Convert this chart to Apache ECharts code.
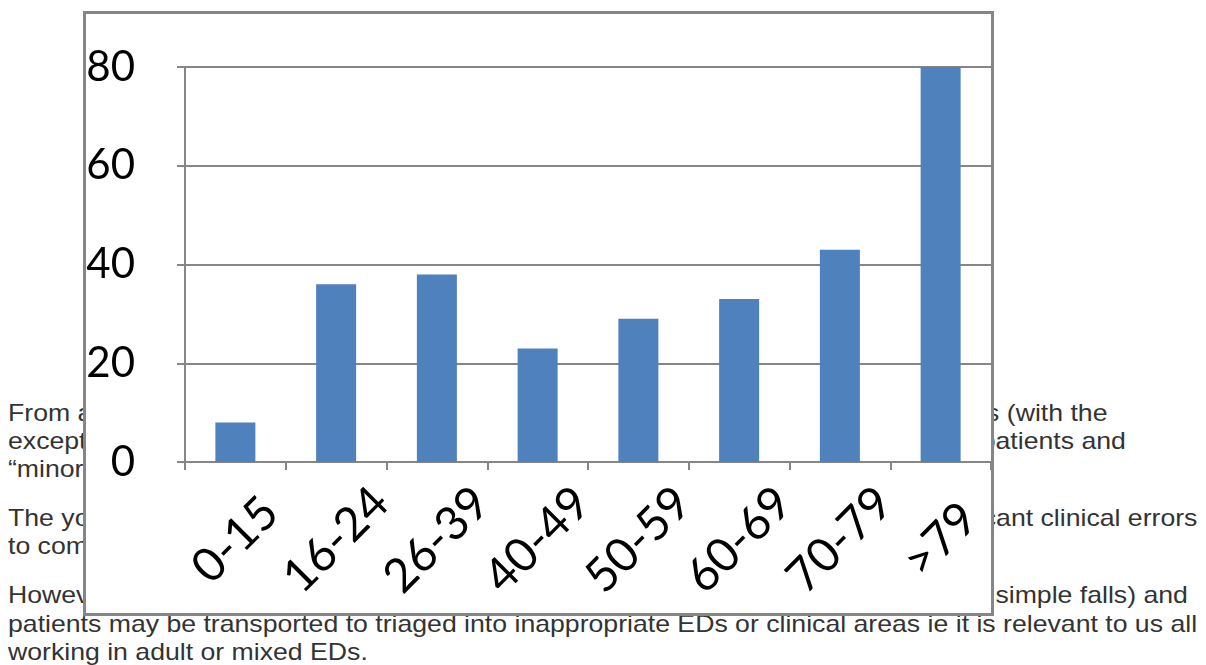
<!DOCTYPE html>
<html>
<head>
<meta charset="utf-8">
<script src="https://cdn.jsdelivr.net/npm/echarts@6.0.0/dist/echarts.min.js"></script>
<style>
  html, body { margin: 0; padding: 0; background: #fff; width: 1206px; height: 665px; overflow: hidden; }
  .t {
    position: absolute;
    white-space: nowrap;
    font: 24px "Liberation Sans", Arial, sans-serif;
    line-height: 29px;
    color: #333;
    transform: scaleX(1.11);
  }
  .l { left: 8px; transform-origin: left top; }
  .r { transform-origin: right top; }
  #box {
    position: absolute;
    left: 83px; top: 11px;
    width: 911px; height: 605px;
    box-sizing: border-box;
    border: 3px solid #868686;
    background: #fff;
  }
  #chart { width: 100%; height: 100%; }
</style>
</head>
<body>
<div class="t l" style="top:398px">From an analysis of the incident reports it</div>
<div class="t r" style="top:398px; right:99px">across all age groups (with the</div>
<div class="t l" style="top:426px">exception of the very young) including</div>
<div class="t r" style="top:426px; right:80px">among older patients and</div>
<div class="t l" style="top:454px">“minor” injuries presenting to the department.</div>
<div class="t l" style="top:503px">The young and the old are at increased risk</div>
<div class="t r" style="top:503px; right:9px">of significant clinical errors</div>
<div class="t l" style="top:531px">to compared with other age groups.</div>
<div class="t l" style="top:580px">However, the elderly often present with</div>
<div class="t r" style="top:580px; right:18px">non-specific complaints (eg simple falls) and</div>
<div class="t l" style="top:609px">patients may be transported to triaged into inappropriate EDs or clinical areas ie it is relevant to us all</div>
<div class="t l" style="top:637px">working in adult or mixed EDs.</div>

<div id="box"><div id="chart"></div></div>

<script>
// age bands and counts
const ageBands = ["0-15", "16-24", "26-39", "40-49", "50-59", "60-69", "70-79", ">79"];
const counts = [8, 36, 38, 23, 29, 33, 43, 80];
const yTicks = { min: 0, max: 80, interval: 20 };

const chart = echarts.init(document.getElementById("chart"));

const axisGray = "#868686";
const labelFont = "Lato, 'Open Sans', sans-serif";

chart.setOption({
  animation: false,
  backgroundColor: "#fff",
  grid: { left: 99, right: 0, top: 53, bottom: 151, outerBoundsMode: "none" },
  xAxis: {
    type: "category",
    data: ageBands,
    axisLine: { lineStyle: { color: axisGray, width: 2 } },
    axisTick: { show: true, length: 8, lineStyle: { color: axisGray, width: 2 } },
    axisLabel: {
      interval: 0,
      rotate: 45,
      align: "center",
      verticalAlign: "middle",
      margin: 78,
      fontSize: 47,
      fontFamily: labelFont,
      color: "#000",
    },
  },
  yAxis: {
    type: "value",
    min: yTicks.min,
    max: yTicks.max,
    interval: yTicks.interval,
    axisLine: { show: true, lineStyle: { color: axisGray, width: 2 } },
    axisTick: { show: true, length: 8, lineStyle: { color: axisGray, width: 2 } },
    splitLine: { lineStyle: { color: axisGray, width: 2 } },
    axisLabel: {
      margin: 50,
      fontSize: 42,
      fontFamily: labelFont,
      color: "#000",
    },
  },
  series: [
    {
      type: "bar",
      data: counts,
      barWidth: 40,
      itemStyle: { color: "#4f81bd" },
    },
  ],
});
</script>
</body>
</html>
